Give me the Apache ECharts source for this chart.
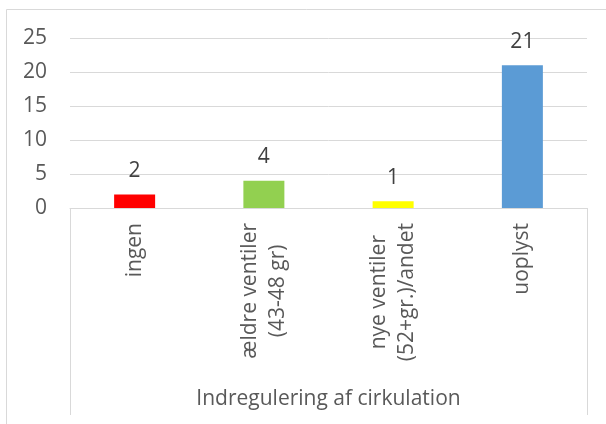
<!DOCTYPE html>
<html>
<head>
<meta charset="utf-8">
<script src="https://cdn.jsdelivr.net/npm/echarts@6/dist/echarts.min.js"></script>
<style>
  html, body { margin: 0; padding: 0; background: #fff; }
  #main { width: 606px; height: 424px; }
</style>
</head>
<body>
<div id="main"></div>
<script>
// data
var categories = ['ingen', 'ældre ventiler\n(43-48 gr)', 'nye ventiler\n(52+gr.)/andet', 'uoplyst'];
var values = [2, 4, 1, 21];
var barColors = ['#ff0000', '#92d050', '#ffff00', '#5b9bd5'];
var yTicks = [0, 5, 10, 15, 20, 25];
var axisTitle = 'Indregulering af cirkulation';

var FONT = '"Open Sans", "Noto Sans", sans-serif';
// plot area edges (px)
var G = { left: 70, right: 19, top: 38, bottom: 216 };
var boxBottom = 415;

var myChart = echarts.init(document.getElementById('main'), null, { renderer: 'canvas' });

var option = {
  backgroundColor: '#ffffff',
  animation: false,
  textStyle: { fontFamily: FONT },
  grid: { left: G.left, right: G.right, top: G.top, bottom: G.bottom, containLabel: false },
  xAxis: {
    type: 'category',
    data: categories,
    name: axisTitle,
    nameLocation: 'middle',
    nameGap: 181,
    nameTextStyle: { color: '#595959', fontSize: 21, fontFamily: FONT },
    axisLine: { show: true, lineStyle: { color: '#d9d9d9', width: 1 } },
    axisTick: { show: false },
    axisLabel: {
      rotate: 90,
      margin: 15,
      color: '#595959',
      fontSize: 21,
      fontFamily: FONT,
      lineHeight: 28,
      formatter: function (v) {
        return v.split('\n').map(function (s) { return '{c|' + s + '}'; }).join('\n');
      },
      rich: {
        c: { align: 'center', fontSize: 21, lineHeight: 28, color: '#595959', fontFamily: FONT }
      }
    }
  },
  yAxis: {
    type: 'value',
    min: yTicks[0],
    max: yTicks[yTicks.length - 1],
    interval: 5,
    axisLine: { show: false },
    axisTick: { show: false },
    splitLine: { lineStyle: { color: '#d9d9d9', width: 1 } },
    axisLabel: { color: '#595959', fontSize: 21, fontFamily: FONT, margin: 23 }
  },
  series: [{
    type: 'bar',
    barWidth: 41,
    data: values.map(function (v, i) {
      return { value: v, itemStyle: { color: barColors[i] } };
    }),
    label: {
      show: true,
      position: 'top',
      distance: 13,
      color: '#404040',
      fontSize: 21,
      fontFamily: FONT
    }
  }],
  graphic: [
    // outer chart border
    {
      type: 'rect', silent: true,
      shape: { x: 6.5, y: 9.5, width: 700, height: 500 },
      style: { fill: null, stroke: '#d9d9d9', lineWidth: 1 }
    },
    // category axis box sides
    {
      type: 'line', silent: true,
      shape: { x1: G.left + 0.5, y1: 424 - G.bottom, x2: G.left + 0.5, y2: boxBottom },
      style: { stroke: '#d9d9d9', lineWidth: 1 }
    },
    {
      type: 'line', silent: true,
      shape: { x1: 606 - G.right + 0.5, y1: 424 - G.bottom, x2: 606 - G.right + 0.5, y2: boxBottom },
      style: { stroke: '#d9d9d9', lineWidth: 1 }
    }
  ]
};

myChart.setOption(option);
</script>
</body>
</html>
